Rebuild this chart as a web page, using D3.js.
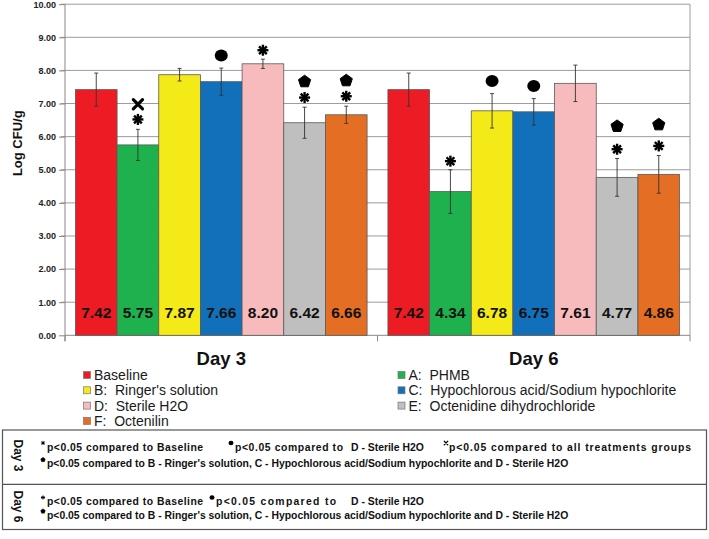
<!DOCTYPE html>
<html>
<head>
<meta charset="utf-8">
<script src="https://cdn.jsdelivr.net/npm/d3@7"></script>
<style>
  html, body { margin: 0; padding: 0; background: #fff; }
  svg { display: block; font-family: "Liberation Sans", Arial, sans-serif; }
  text { white-space: pre; }
</style>
</head>
<body>
<svg id="chart" width="709" height="539"></svg>
<script>
// ---------------- DATA ----------------
const days = ["Day 3", "Day 6"];
const groups = ["Baseline", "A", "B", "C", "D", "E", "F"];
const groupLabels = [
  "Baseline",
  "A:  PHMB",
  "B:  Ringer's solution",
  "C:  Hypochlorous acid/Sodium hypochlorite",
  "D:  Sterile H2O",
  "E:  Octenidine dihydrochloride",
  "F:  Octenilin"
];
const groupColors = ["#ED1C24", "#20B14F", "#F3EA18", "#1170B9", "#F7BBBD", "#BFBFBF", "#E46F24"];
const day3Values = [7.42, 5.75, 7.87, 7.66, 8.20, 6.42, 6.66];
const day6Values = [7.42, 4.34, 6.78, 6.75, 7.61, 4.77, 4.86];
const day3Errors = [0.50, 0.47, 0.19, 0.41, 0.14, 0.47, 0.26];
const day6Errors = [0.50, 0.66, 0.52, 0.40, 0.55, 0.57, 0.57];
const yTicks = [0, 1, 2, 3, 4, 5, 6, 7, 8, 9, 10];
const yAxisTitle = "Log CFU/g";
// significance markers: symbol and the value level at which it sits
const markerDay = ["Day 3", "Day 3", "Day 3", "Day 3", "Day 3", "Day 3", "Day 3", "Day 3",
                   "Day 6", "Day 6", "Day 6", "Day 6", "Day 6", "Day 6", "Day 6"];
const markerGroup = ["A", "A", "C", "D", "E", "E", "F", "F",
                     "A", "B", "C", "E", "E", "F", "F"];
const markerSymbol = ["star", "cross", "circle", "star", "star", "pentagon", "star", "pentagon",
                      "star", "circle", "circle", "star", "pentagon", "star", "pentagon"];
const markerLevel = [6.52, 6.98, 8.45, 8.61, 7.18, 7.68, 7.22, 7.71,
                     5.26, 7.68, 7.53, 5.62, 6.33, 5.72, 6.38];
const noteStar = "p<0.05 compared to Baseline";
const noteCirclePrefix = "p<0.05 compared to";
const noteCircleSuffix = "D - Sterile H2O";
const noteCross = "p<0.05 compared to all treatments groups";
const notePentagon = "p<0.05 compared to B - Ringer's solution, C - Hypochlorous acid/Sodium hypochlorite and D - Sterile H2O";

// ---------------- LAYOUT ----------------
const svg = d3.select("#chart");
const plot = { left: 65, right: 690, top: 4.2, bottom: 335.3 };

const y = d3.scaleLinear().domain([0, 10]).range([plot.bottom, plot.top]);
const x0 = d3.scaleBand().domain(days).range([plot.left, plot.right]).padding(0);
const x1 = d3.scaleBand().domain(groups).range([0, x0.bandwidth()]).paddingInner(0).paddingOuter(0.25);

const dayData = {
  "Day 3": { values: day3Values, errors: day3Errors },
  "Day 6": { values: day6Values, errors: day6Errors }
};
const barData = [];
days.forEach(d => groups.forEach((g, i) => barData.push({
  day: d, group: g, value: dayData[d].values[i], err: dayData[d].errors[i], color: groupColors[i]
})));

// gridlines
svg.append("g").selectAll("line").data(yTicks.filter(t => t > 0)).join("line")
  .attr("x1", plot.left - 4).attr("x2", plot.right)
  .attr("y1", d => y(d)).attr("y2", d => y(d))
  .attr("stroke", "#9c9c9c").attr("stroke-width", 1);
// right border
svg.append("line").attr("x1", plot.right).attr("x2", plot.right)
  .attr("y1", y(10)).attr("y2", y(0)).attr("stroke", "#9c9c9c").attr("stroke-width", 1);

// y axis
const yAxis = d3.axisLeft(y).tickValues(yTicks).tickFormat(d3.format(".2f")).tickSize(6).tickPadding(3);
const gy = svg.append("g").attr("transform", `translate(${plot.left},0)`).call(yAxis);
gy.select(".domain").attr("stroke", "#888").attr("d", `M0,${y(10)}V${y(0) + 6}`);
gy.selectAll(".tick line").attr("stroke", "#888");
gy.selectAll(".tick text").attr("fill", "#222").attr("font-size", "9px").attr("font-weight", "bold")
  .attr("font-family", "'Liberation Sans', Arial, sans-serif");

// x axis (category ticks at the band edges)
const xEdges = [plot.left, plot.left + x0.bandwidth(), plot.right];
svg.append("line").attr("x1", plot.left).attr("x2", plot.right)
  .attr("y1", y(0)).attr("y2", y(0)).attr("stroke", "#888");
svg.append("g").selectAll("line").data(xEdges).join("line")
  .attr("x1", d => d).attr("x2", d => d).attr("y1", y(0)).attr("y2", y(0) + 6)
  .attr("stroke", "#888");
svg.append("g").selectAll("text").data(days).join("text")
  .attr("x", d => x0(d) + x0.bandwidth() / 2).attr("y", 365)
  .attr("text-anchor", "middle").attr("font-size", "18.5px").attr("font-weight", "bold")
  .attr("fill", "#111").text(d => d);

// y title
svg.append("text").attr("transform", `translate(22,${y(5.8)}) rotate(-90)`)
  .attr("text-anchor", "middle").attr("font-size", "13px").attr("font-weight", "bold")
  .attr("fill", "#111").text(yAxisTitle);

// bars
const bx = d => x0(d.day) + x1(d.group);
svg.append("g").selectAll("rect").data(barData).join("rect")
  .attr("x", bx).attr("width", x1.bandwidth())
  .attr("y", d => y(d.value)).attr("height", d => y(0) - y(d.value))
  .attr("fill", d => d.color).attr("stroke", "#5a5a5a").attr("stroke-width", 0.8);

// error bars
const eb = svg.append("g").attr("stroke", "#333").attr("stroke-width", 0.9);
barData.forEach(d => {
  const cx = bx(d) + x1.bandwidth() / 2;
  eb.append("line").attr("x1", cx).attr("x2", cx).attr("y1", y(d.value + d.err)).attr("y2", y(d.value - d.err));
  eb.append("line").attr("x1", cx - 2).attr("x2", cx + 2).attr("y1", y(d.value + d.err)).attr("y2", y(d.value + d.err));
  eb.append("line").attr("x1", cx - 2).attr("x2", cx + 2).attr("y1", y(d.value - d.err)).attr("y2", y(d.value - d.err));
});

// value labels
svg.append("g").selectAll("text").data(barData).join("text")
  .attr("x", d => bx(d) + x1.bandwidth() / 2).attr("y", y(0.7))
  .attr("dy", "0.36em").attr("text-anchor", "middle")
  .attr("font-size", "15.5px").attr("font-weight", "bold").attr("fill", "#111")
  .text(d => d.value.toFixed(2));

// symbol drawing
function drawSymbol(g, type, cx, cy, s) {
  if (type === "star") {
    const r = 5.5 * s;
    for (let a = 0; a < 180; a += 45) {
      const rad = a * Math.PI / 180;
      g.append("line").attr("x1", cx - r * Math.cos(rad)).attr("y1", cy - r * Math.sin(rad))
        .attr("x2", cx + r * Math.cos(rad)).attr("y2", cy + r * Math.sin(rad))
        .attr("stroke", "#000").attr("stroke-width", 2.4 * s);
    }
  } else if (type === "circle") {
    g.append("ellipse").attr("cx", cx).attr("cy", cy).attr("rx", 6.5 * s).attr("ry", 6 * s).attr("fill", "#000");
  } else if (type === "pentagon") {
    const r = 6.4 * s;
    const pts = d3.range(5).map(i => {
      const a = -Math.PI / 2 + i * 2 * Math.PI / 5;
      return [cx + r * Math.cos(a), cy + r * Math.sin(a) + 0.6 * s];
    });
    g.append("path").attr("d", "M" + pts.join("L") + "Z").attr("fill", "#000")
      .attr("stroke", "#000").attr("stroke-width", 1 * s).attr("stroke-linejoin", "round");
  } else if (type === "cross") {
    const r = 4.6 * s;
    g.append("path").attr("d", `M${cx - r},${cy - r}L${cx + r},${cy + r}M${cx + r},${cy - r}L${cx - r},${cy + r}`)
      .attr("stroke", "#000").attr("stroke-width", 3.2 * s).attr("stroke-linecap", "round");
  }
}

const mg = svg.append("g");
markerLevel.forEach((lvl, i) => {
  const cx = x0(markerDay[i]) + x1(markerGroup[i]) + x1.bandwidth() / 2;
  drawSymbol(mg, markerSymbol[i], cx, y(lvl), 1);
});

// legend
const legendCols = [[0, 2, 4, 6], [1, 3, 5]];
const legendX = [83.5, 398];
const lg = svg.append("g");
legendCols.forEach((col, ci) => {
  col.forEach((gi, ri) => {
    const cy = 375 + ri * 15.3;
    lg.append("rect").attr("x", legendX[ci]).attr("y", cy - 3.5).attr("width", 7).attr("height", 7)
      .attr("fill", groupColors[gi]).attr("stroke", "#777").attr("stroke-width", 0.7);
    lg.append("text").attr("x", legendX[ci] + 10.5).attr("y", cy).attr("dy", "0.36em")
      .attr("font-size", "14px").attr("fill", "#1a1a1a").text(groupLabels[gi]);
  });
});

// footnote box
const box = svg.append("g");
box.append("rect").attr("x", 2.5).attr("y", 430).attr("width", 704).attr("height", 99.5)
  .attr("fill", "none").attr("stroke", "#555").attr("stroke-width", 1.2);
box.append("line").attr("x1", 2.5).attr("x2", 706.5).attr("y1", 484.3).attr("y2", 484.3)
  .attr("stroke", "#555").attr("stroke-width", 1.2);

[["Day 3", 455.5], ["Day 6", 506.5]].forEach(([label, cy]) => {
  box.append("text").attr("transform", `translate(13.5,${cy}) rotate(90)`)
    .attr("text-anchor", "middle").attr("font-size", "12px").attr("font-weight", "bold")
    .attr("fill", "#111").text(label);
});

// [symbol, marker x, text x, text, textLength or null]
const footLines = [
  { y: 450.5, items: [["star", 43, 47, noteStar, 156], ["circle", 231, 235, noteCirclePrefix, 108],
                       [null, 0, 351, noteCircleSuffix, null], ["cross", 446, 449, noteCross, 242]] },
  { y: 467, items: [["pentagon", 43, 47, notePentagon, null]] },
  { y: 505, items: [["star", 43, 47, noteStar, 156], ["circle", 212, 216, noteCirclePrefix, 120],
                     [null, 0, 351, noteCircleSuffix, null]] },
  { y: 518.5, items: [["pentagon", 43, 47, notePentagon, null]] }
];
footLines.forEach(line => {
  line.items.forEach(([sym, mx, tx, txt, len]) => {
    if (sym) drawSymbol(box, sym, mx, line.y - 7.5, 0.38);
    const t = box.append("text").attr("x", tx).attr("y", line.y)
      .attr("font-size", "10.4px").attr("font-weight", "bold").attr("fill", "#111").text(txt);
    if (len) t.attr("textLength", len).attr("lengthAdjust", "spacing");
  });
});
</script>
</body>
</html>
